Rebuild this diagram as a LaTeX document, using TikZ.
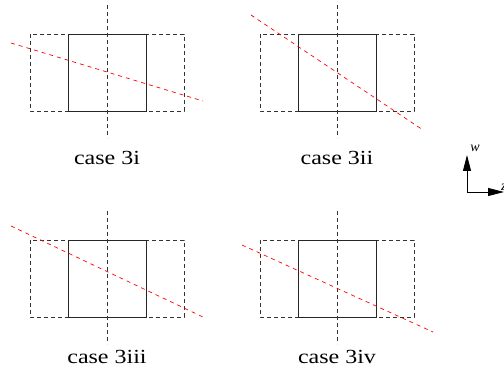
\documentclass[tikz,border=0pt]{standalone}
\usepackage{fontspec}
\setmainfont{Liberation Serif}
\usetikzlibrary{arrows.meta}
\begin{document}
\begin{tikzpicture}[x=1pt,y=-1pt,
  dsh/.style={draw=black!80,line width=0.9pt,dash pattern=on 4pt off 3pt},
  sol/.style={draw=black!85,line width=0.9pt},
  cut/.style={draw=red,line width=0.7pt,dash pattern=on 4pt off 4pt},
  lbl/.style={font=\fontsize{20}{22}\selectfont,xscale=1.2,anchor=base,inner sep=0pt},
  axis/.style={draw=black,line width=0.9pt,-{Triangle[length=16pt,width=8pt]}}]
\useasboundingbox (0,0) rectangle (504,374);
\foreach \cx/\ty/\rax/\ray/\rbx/\rby/\txt/\lb/\nm in {
  107/34/11/43/203/101/case 3i/165/a,
  337/34/251/15/423/130/case 3ii/165/b,
  107/240/11/226/203/317/case 3iii/364/c,
  337/240/242/245/433/332/case 3iv/364/d}{
  \coordinate (\nm-o1) at (\cx-77,\ty);
  \coordinate (\nm-o2) at (\cx+77,\ty+77);
  \coordinate (\nm-s1) at (\cx-39,\ty);
  \coordinate (\nm-s2) at (\cx+39,\ty+77);
  \coordinate (\nm-v1) at (\cx,\ty-29);
  \coordinate (\nm-v2) at (\cx,\ty+104);
  \coordinate (\nm-r1) at (\rax,\ray);
  \coordinate (\nm-r2) at (\rbx,\rby);
  \draw[dsh] (\nm-o1) rectangle (\nm-o2);
  \draw[sol,fill=white] (\nm-s1) rectangle (\nm-s2);
  \draw[dsh] (\nm-v1) -- (\nm-v2);
  \draw[cut] (\nm-r1) -- (\nm-r2);
  \node[lbl] (\nm-lbl) at (\cx,\lb) {\txt};
}
% axes
\coordinate (ax-o) at (467,192);
\coordinate (ax-w) at (467,155);
\coordinate (ax-z) at (504,192);
\draw[axis] (ax-o) -- (ax-w);
\draw[axis] (ax-o) -- (ax-z);
\node[font=\itshape\fontsize{14}{15}\selectfont,inner sep=0pt] (lw) at (475,148) {w};
\node[font=\itshape\fontsize{14}{15}\selectfont,inner sep=0pt,anchor=west] (lz) at (501,187) {z};
\end{tikzpicture}
\end{document}
